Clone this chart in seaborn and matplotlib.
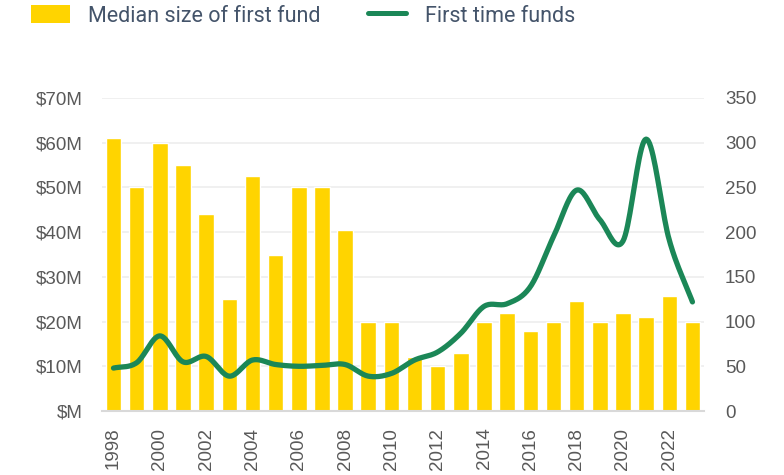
import numpy as np
import pandas as pd
import matplotlib
matplotlib.use("Agg")
import matplotlib.pyplot as plt
from matplotlib.patches import Patch
from matplotlib.lines import Line2D
import seaborn as sns

years = list(range(1998, 2024))
median_size = [61, 50, 60, 55, 44, 25, 52.5, 35, 50, 50, 40.5, 20, 20, 12, 10, 13,
               20, 22, 18, 20, 24.5, 20, 22, 21, 25.8, 20]
first_time_funds = [48, 54, 84, 55, 61, 39, 57, 52, 50, 51, 52, 39, 42, 57, 66, 87,
                    117, 120, 139, 195, 247, 214, 190, 304, 191, 122]
left_ticks = [0, 10, 20, 30, 40, 50, 60, 70]
right_ticks = [0, 50, 100, 150, 200, 250, 300, 350]
xtick_labels = [str(y) for y in range(1998, 2024, 2)]

YELLOW = "#FFD400"
GREEN = "#1B8757"
TICK = "#595959"
FS = 13.5

sns.set_theme(style="white")
plt.rcParams['font.family'] = ['Liberation Sans', 'DejaVu Sans']

fig = plt.figure(figsize=(7.84, 4.75), dpi=100)
ax = fig.add_axes([0.130, 0.1347, 0.768, 0.659])

df = pd.DataFrame({"year": [str(y) for y in years], "size": median_size})
sns.barplot(data=df, x="year", y="size", color=YELLOW, saturation=1, width=0.67,
            ax=ax, zorder=2)
ax.set_xlim(-0.5, len(years) - 0.5)
ax.set_ylim(0, 70)
ax.set_yticks(left_ticks)
ax.set_yticklabels([f"${v}M" if v else "$M" for v in left_ticks])
ax.set_xticks(list(range(0, len(years), 2)))
ax.set_xticklabels(xtick_labels, rotation=90)
ax.set_xlabel("")
ax.set_ylabel("")
ax.grid(axis="y", color="#EDEDED", linewidth=1.2, zorder=0)
ax.set_axisbelow(True)
for s in ["top", "right", "left"]:
    ax.spines[s].set_visible(False)
ax.spines["bottom"].set_color("#D9D9D9")
ax.spines["bottom"].set_linewidth(1.5)
ax.tick_params(axis="y", length=0, labelsize=FS, colors=TICK, pad=14)
ax.tick_params(axis="x", length=0, labelsize=FS, colors=TICK, pad=12)

# smooth line (Catmull-Rom rendering of the data points)
x = np.arange(len(years), dtype=float)
y = np.array(first_time_funds, dtype=float)
px = np.concatenate([[2 * x[0] - x[1]], x, [2 * x[-1] - x[-2]]])
py = np.concatenate([[2 * y[0] - y[1]], y, [2 * y[-1] - y[-2]]])
xs, ys = [], []
t = np.linspace(0, 1, 20, endpoint=False)
for i in range(1, len(px) - 2):
    for P, out in ((px, xs), (py, ys)):
        p0, p1, p2, p3 = P[i - 1], P[i], P[i + 1], P[i + 2]
        out.extend(0.5 * ((2 * p1) + (-p0 + p2) * t + (2 * p0 - 5 * p1 + 4 * p2 - p3) * t ** 2
                          + (-p0 + 3 * p1 - 3 * p2 + p3) * t ** 3))
xs.append(x[-1]); ys.append(y[-1])

ax2 = ax.twinx()
sns.lineplot(x=xs, y=ys, ax=ax2, color=GREEN, linewidth=3.8, sort=False,
             solid_capstyle="round", solid_joinstyle="round", zorder=3)
ax2.set_ylim(0, 350)
ax2.set_yticks(right_ticks)
ax2.set_yticklabels([str(v) for v in right_ticks])
ax2.set_ylabel("")
for s in ["top", "right", "left", "bottom"]:
    ax2.spines[s].set_visible(False)
ax2.tick_params(axis="y", length=0, labelsize=FS, colors=TICK, pad=15)
ax2.grid(False)

handles = [Patch(facecolor=YELLOW, edgecolor="none", label="Median size of first fund"),
           Line2D([0], [0], color=GREEN, linewidth=3.6, label="First time funds")]
fig.legend(handles=handles, loc="upper left", bbox_to_anchor=(31 / 784, 1 - 5 / 475), ncol=2,
           frameon=False, prop={"family": "Roboto", "size": 15.5}, labelcolor="#44546A",
           handlelength=1.8, handleheight=0.93, columnspacing=2.2, handletextpad=0.84,
           borderpad=0, borderaxespad=0)

fig.savefig("out.png", dpi=100)
